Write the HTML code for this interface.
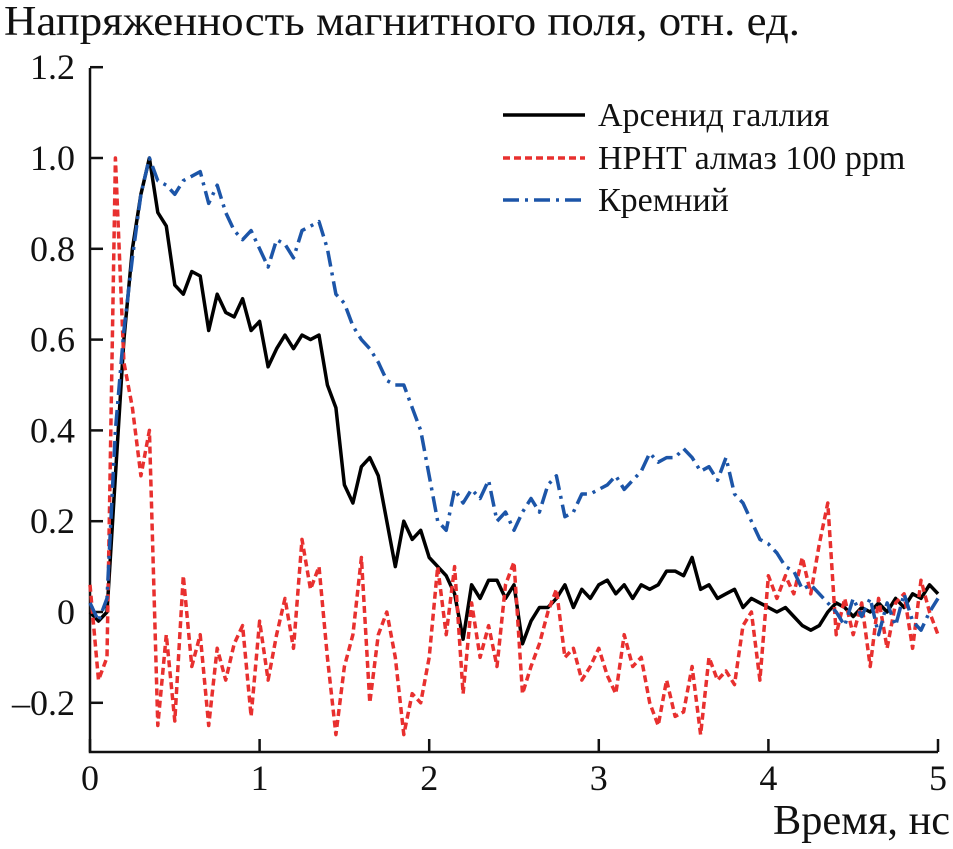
<!DOCTYPE html>
<html><head><meta charset="utf-8"><style>
html,body{margin:0;padding:0;background:#fff;}
text{font-family:"Liberation Serif","DejaVu Serif",serif;fill:#111;}
</style></head><body>
<svg id="chart" width="953" height="844" viewBox="0 0 953 844" xmlns="http://www.w3.org/2000/svg" font-family="Liberation Serif, DejaVu Serif, serif">
<text x="4" y="35" font-size="42" textLength="796" lengthAdjust="spacingAndGlyphs" font-family="Liberation Serif, serif">Напряженность магнитного поля, отн. ед.</text>
<text x="773" y="834" font-size="42" textLength="177" lengthAdjust="spacingAndGlyphs" font-family="Liberation Serif, serif">Время, нс</text>
<g id="axes"></g>
<g id="series"></g>
<g id="legend"></g>
</svg>
<script>
const times = [0,0.05,0.1,0.15,0.2,0.25,0.3,0.35,0.4,0.45,0.5,0.55,0.6,0.65,0.7,0.75,0.8,0.85,0.9,0.95,1.0,1.05,1.1,1.15,1.2,1.25,1.3,1.35,1.4,1.45,1.5,1.55,1.6,1.65,1.7,1.75,1.8,1.85,1.9,1.95,2.0,2.05,2.1,2.15,2.2,2.25,2.3,2.35,2.4,2.45,2.5,2.55,2.6,2.65,2.7,2.75,2.8,2.85,2.9,2.95,3.0,3.05,3.1,3.15,3.2,3.25,3.3,3.35,3.4,3.45,3.5,3.55,3.6,3.65,3.7,3.75,3.8,3.85,3.9,3.95,4.0,4.05,4.1,4.15,4.2,4.25,4.3,4.35,4.4,4.45,4.5,4.55,4.6,4.65,4.7,4.75,4.8,4.85,4.9,4.95,5.0];
const gaas = [0,-0.02,0.0,0.3,0.6,0.8,0.92,1.0,0.88,0.85,0.72,0.70,0.75,0.74,0.62,0.7,0.66,0.65,0.69,0.62,0.64,0.54,0.58,0.61,0.58,0.61,0.60,0.61,0.5,0.45,0.28,0.24,0.32,0.34,0.3,0.2,0.1,0.2,0.16,0.18,0.12,0.1,0.08,0.04,-0.06,0.06,0.03,0.07,0.07,0.03,0.06,-0.07,-0.02,0.01,0.01,0.03,0.06,0.01,0.05,0.03,0.06,0.07,0.04,0.06,0.03,0.06,0.05,0.06,0.09,0.09,0.08,0.12,0.05,0.06,0.03,0.04,0.05,0.01,0.03,0.02,0.01,0.0,0.01,-0.01,-0.03,-0.04,-0.03,0.0,0.02,0.01,-0.01,0.01,0.0,0.02,0.0,0.03,0.01,0.04,0.03,0.06,0.04];
const diamond = [0.06,-0.15,-0.1,1.0,0.55,0.45,0.3,0.4,-0.25,-0.05,-0.24,0.08,-0.12,-0.05,-0.25,-0.08,-0.15,-0.07,-0.03,-0.23,-0.02,-0.15,-0.05,0.03,-0.08,0.16,0.05,0.1,-0.1,-0.27,-0.12,-0.05,0.12,-0.2,-0.05,0.0,-0.1,-0.27,-0.18,-0.2,-0.1,0.1,-0.05,0.1,-0.18,0.02,-0.1,-0.03,-0.12,0.06,0.11,-0.18,-0.12,-0.07,0.0,0.05,-0.1,-0.08,-0.15,-0.12,-0.08,-0.14,-0.18,-0.05,-0.12,-0.1,-0.2,-0.25,-0.15,-0.23,-0.22,-0.12,-0.27,-0.1,-0.15,-0.13,-0.16,-0.03,0.0,-0.15,0.08,0.03,0.08,0.04,0.12,0.04,0.15,0.24,-0.05,0.03,-0.05,0.02,-0.12,0.03,-0.08,0.02,0.04,-0.08,0.07,0.0,-0.05];
const silicon = [0.02,-0.02,0.03,0.4,0.62,0.78,0.92,1.0,0.95,0.94,0.92,0.95,0.96,0.97,0.9,0.94,0.88,0.84,0.82,0.84,0.80,0.76,0.82,0.81,0.78,0.84,0.85,0.86,0.8,0.7,0.68,0.63,0.6,0.58,0.55,0.51,0.5,0.5,0.45,0.40,0.30,0.20,0.18,0.27,0.24,0.27,0.25,0.29,0.2,0.22,0.18,0.22,0.25,0.22,0.28,0.3,0.21,0.22,0.26,0.26,0.27,0.28,0.3,0.27,0.29,0.31,0.35,0.33,0.34,0.34,0.36,0.34,0.31,0.32,0.29,0.34,0.26,0.24,0.2,0.16,0.15,0.13,0.1,0.09,0.05,0.06,0.04,0.02,0.0,-0.03,0.03,-0.01,0.03,-0.05,0.02,-0.03,0.04,-0.02,-0.04,0.0,0.03];
const xTicks = [0,1,2,3,4,5];
const xTickLabels = ["0","1","2","3","4","5"];
const yTicks = [-0.2,0,0.2,0.4,0.6,0.8,1.0,1.2];
const yTickLabels = ["\u20130.2","0","0.2","0.4","0.6","0.8","1.0","1.2"];
const seriesNames = ["Арсенид галлия","HPHT алмаз 100 ppm","Кремний"];

const NS="http://www.w3.org/2000/svg";
const X0=90,X1=938,Y0=752,YT=68;
const xs=t=>X0+t*(X1-X0)/5;
const ys=v=>612-v*454;
function mk(tag,attrs,parent){const e=document.createElementNS(NS,tag);for(const k in attrs)e.setAttribute(k,attrs[k]);parent.appendChild(e);return e;}
const FF='Liberation Serif, DejaVu Serif, serif';
const axes=document.getElementById('axes');
let a=mk('path',{d:`M${X0} ${YT}V${Y0}H${X1}`,fill:'none',stroke:'#111','stroke-width':2.5},axes);


xTicks.forEach((t,i)=>{
 const l=mk('line',{x1:xs(t),x2:xs(t),y1:Y0,y2:Y0-13,stroke:'#111','stroke-width':2.5},axes);
 
 
 const tx=mk('text',{x:xs(t),y:Y0+38,'font-size':36,'text-anchor':'middle','font-family':FF},axes);tx.textContent=xTickLabels[i];
 
 
});
yTicks.forEach((v,i)=>{
 const l=mk('line',{x1:X0,x2:X0+13,y1:ys(v),y2:ys(v),stroke:'#111','stroke-width':2.5},axes);
 
 
 const tx=mk('text',{x:75,y:ys(v)+12,'font-size':36,'text-anchor':'end','font-family':FF},axes);tx.textContent=yTickLabels[i];
 
 
});
const styles=[{c:'#000',d:'',w:3.5},{c:'#e8302f',d:'7 4',w:3.5},{c:'#1c55a8',d:'16 6 3 6',w:3.5}];
const data=[gaas,diamond,silicon];
const sg=document.getElementById('series');
data.forEach((arr,k)=>{
 const d=arr.map((v,i)=>(i?'L':'M')+xs(times[i]).toFixed(1)+' '+ys(v).toFixed(1)).join('');
 const p=mk('path',{d,fill:'none',stroke:styles[k].c,'stroke-width':styles[k].w,'stroke-dasharray':styles[k].d,'stroke-linejoin':'round'},sg);
 
 
});
const lg=document.getElementById('legend');
const ly=[115,158,200];
seriesNames.forEach((n,k)=>{
 const l=mk('line',{x1:503,x2:585,y1:ly[k],y2:ly[k],stroke:styles[k].c,'stroke-width':3.5,'stroke-dasharray':styles[k].d},lg);
 
 
 const t=mk('text',{x:598,y:ly[k]+11,'font-size':34,'font-family':FF},lg);t.textContent=n;
 
 
});
</script>
</body></html>
